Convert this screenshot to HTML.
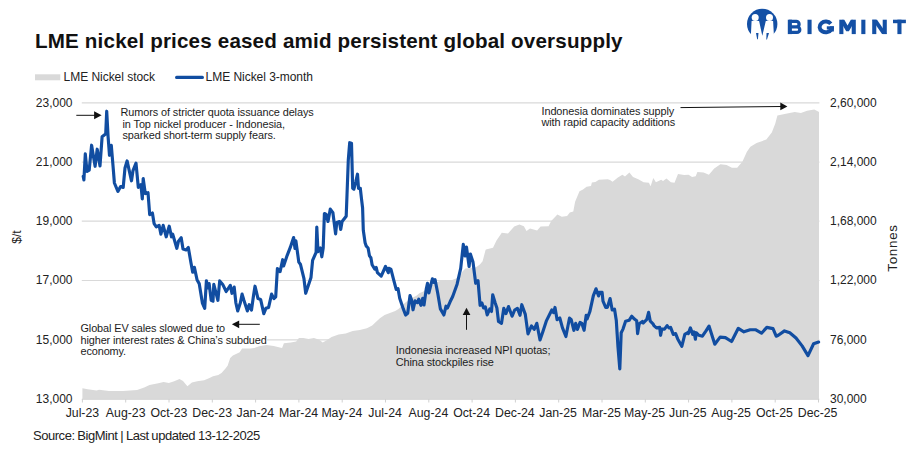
<!DOCTYPE html>
<html><head><meta charset="utf-8"><title>LME nickel</title>
<style>
html,body{margin:0;padding:0;background:#fff;}
body{width:913px;height:453px;position:relative;overflow:hidden;font-family:"Liberation Sans",sans-serif;color:#222;}
.abs{position:absolute;white-space:nowrap;}
#title{left:35px;top:29.0px;font-size:20.6px;font-weight:bold;color:#111;line-height:24px;letter-spacing:0.17px;}
.leg{font-size:12px;line-height:14px;top:70.3px;color:#222;}
.yl{position:absolute;right:840.5px;width:60px;text-align:right;font-size:12px;line-height:14px;color:#222;}
.yr{position:absolute;left:830px;font-size:12px;line-height:14px;color:#222;}
.xl{position:absolute;top:405.7px;width:60px;text-align:center;font-size:12.3px;line-height:14px;color:#222;}
.ann1{color:#1c1c1c;letter-spacing:-0.09px;}
#src{left:33px;top:428.1px;font-size:13px;line-height:15px;color:#222;letter-spacing:-0.46px;word-spacing:-0.4px;}
svg{position:absolute;left:0;top:0;}
</style></head><body>
<svg width="913" height="453" viewBox="0 0 913 453">
<rect x="80" y="322" width="188" height="38" fill="#fff"/>
<line x1="81.8" y1="102.8" x2="819.4" y2="102.8" stroke="#d9d9d9" stroke-width="1.2"/><line x1="81.8" y1="162.05" x2="819.4" y2="162.05" stroke="#d9d9d9" stroke-width="1.2"/><line x1="81.8" y1="221.2" x2="819.4" y2="221.2" stroke="#d9d9d9" stroke-width="1.2"/><line x1="81.8" y1="280.5" x2="819.4" y2="280.5" stroke="#d9d9d9" stroke-width="1.2"/><line x1="81.8" y1="339.8" x2="819.4" y2="339.8" stroke="#d9d9d9" stroke-width="1.2"/>
<rect x="80" y="326" width="187" height="33" fill="#fff"/>
<path d="M82.4,388.3 L87.7,389.2 L96.5,390.4 L99.1,389.7 L108.9,390.9 L123.0,390.9 L137.1,390.0 L144.2,387.4 L149.5,385.1 L158.3,383.3 L163.6,382.1 L168.9,383.0 L174.2,381.2 L179.5,379.1 L183.0,380.9 L187.4,386.2 L191.9,382.6 L197.2,381.2 L204.2,380.3 L209.5,378.0 L213.0,376.3 L218.3,375.0 L221.5,373.0 L225.5,368.5 L227.6,365.8 L229.2,361.0 L230.2,358.0 L232.9,355.4 L239.7,352.2 L242.1,348.6 L250.3,348.4 L254.3,348.1 L259.1,346.3 L266.4,345.0 L273.7,346.1 L279.8,347.4 L282.1,348.0 L283.9,343.3 L290.9,342.4 L296.2,341.5 L298.9,338.0 L303.3,338.0 L308.6,338.9 L313.9,338.0 L319.2,339.7 L322.7,342.4 L326.3,340.6 L331.6,337.1 L338.6,334.4 L345.7,333.6 L352.7,330.9 L359.8,330.0 L366.9,328.3 L372.2,325.6 L374.8,323.0 L379.9,318.3 L384.6,315.0 L389.9,313.0 L395.2,311.0 L398.5,309.0 L401.8,305.7 L406.0,302.0 L412.4,297.7 L416.4,295.8 L419.7,293.1 L423.0,291.8 L425.6,289.8 L432.0,285.0 L438.9,281.2 L444.2,280.5 L452.1,279.9 L456.1,278.5 L460.1,275.9 L462.7,271.3 L465.4,268.6 L470.7,267.9 L476.0,267.3 L479.9,264.6 L482.6,261.3 L485.4,250.6 L485.9,249.5 L493.0,247.7 L496.5,240.6 L501.8,232.7 L508.0,233.6 L514.2,226.5 L519.4,224.4 L523.9,226.2 L526.5,230.9 L530.0,228.6 L537.1,230.4 L540.6,226.5 L548.6,226.2 L551.2,220.9 L557.4,214.5 L561.8,216.8 L567.1,215.9 L569.8,212.4 L573.3,211.5 L575.1,201.8 L579.5,191.2 L583.0,189.4 L586.6,186.8 L591.0,185.9 L591.9,182.4 L595.4,182.0 L598.9,179.7 L607.7,179.2 L610.0,180.0 L612.6,181.8 L617.9,177.4 L622.4,174.7 L625.0,176.5 L629.4,172.6 L633.0,176.9 L638.3,179.2 L643.6,182.2 L648.9,182.7 L650.6,186.2 L653.3,177.9 L655.9,182.2 L661.2,179.7 L663.0,180.9 L666.5,178.6 L670.9,182.2 L674.5,182.7 L678.0,173.9 L684.2,175.1 L688.6,174.7 L692.1,176.9 L695.7,176.2 L697.4,172.1 L703.6,172.6 L708.9,174.7 L714.2,168.6 L720.4,164.2 L726.6,165.0 L731.9,167.7 L737.2,167.7 L742.5,161.5 L746.9,151.8 L750.4,146.8 L756.6,143.0 L766.3,139.6 L771.8,132.4 L775.3,123.6 L777.4,115.6 L785.9,113.8 L794.7,112.1 L800.9,113.0 L807.1,110.8 L814.2,109.4 L817.7,111.2 L819.0,112.1 L819,399.4 L82.4,399.4 Z" fill="#d9d9d9"/>
<line x1="81.8" y1="399.2" x2="819.4" y2="399.2" stroke="#d4d4d4" stroke-width="1"/>
<line x1="82.4" y1="399" x2="82.4" y2="402.5" stroke="#d0d0d0" stroke-width="1"/><line x1="125.7" y1="399" x2="125.7" y2="402.5" stroke="#d0d0d0" stroke-width="1"/><line x1="169.0" y1="399" x2="169.0" y2="402.5" stroke="#d0d0d0" stroke-width="1"/><line x1="212.3" y1="399" x2="212.3" y2="402.5" stroke="#d0d0d0" stroke-width="1"/><line x1="255.6" y1="399" x2="255.6" y2="402.5" stroke="#d0d0d0" stroke-width="1"/><line x1="298.9" y1="399" x2="298.9" y2="402.5" stroke="#d0d0d0" stroke-width="1"/><line x1="342.2" y1="399" x2="342.2" y2="402.5" stroke="#d0d0d0" stroke-width="1"/><line x1="385.5" y1="399" x2="385.5" y2="402.5" stroke="#d0d0d0" stroke-width="1"/><line x1="428.8" y1="399" x2="428.8" y2="402.5" stroke="#d0d0d0" stroke-width="1"/><line x1="472.1" y1="399" x2="472.1" y2="402.5" stroke="#d0d0d0" stroke-width="1"/><line x1="515.4" y1="399" x2="515.4" y2="402.5" stroke="#d0d0d0" stroke-width="1"/><line x1="558.7" y1="399" x2="558.7" y2="402.5" stroke="#d0d0d0" stroke-width="1"/><line x1="602.0" y1="399" x2="602.0" y2="402.5" stroke="#d0d0d0" stroke-width="1"/><line x1="645.3" y1="399" x2="645.3" y2="402.5" stroke="#d0d0d0" stroke-width="1"/><line x1="688.6" y1="399" x2="688.6" y2="402.5" stroke="#d0d0d0" stroke-width="1"/><line x1="731.9" y1="399" x2="731.9" y2="402.5" stroke="#d0d0d0" stroke-width="1"/><line x1="775.2" y1="399" x2="775.2" y2="402.5" stroke="#d0d0d0" stroke-width="1"/><line x1="818.5" y1="399" x2="818.5" y2="402.5" stroke="#d0d0d0" stroke-width="1"/>
<path d="M83.2,176.3 L83.9,180.0 L85.3,153.8 L87.0,171.4 L89.2,170.1 L91.6,145.2 L95.1,166.3 L97.2,149.2 L100.0,166.0 L102.1,136.8 L104.3,135.0 L105.7,134.0 L106.7,111.2 L108.1,136.8 L109.5,155.3 L111.3,145.3 L113.1,166.8 L114.4,183.0 L117.9,191.4 L120.6,186.5 L123.2,187.4 L125.0,168.0 L127.1,160.9 L131.5,180.8 L133.0,170.6 L136.0,163.2 L138.3,187.4 L140.9,184.7 L142.3,198.9 L143.2,178.5 L145.3,193.6 L148.0,192.7 L149.7,214.7 L152.4,213.0 L154.1,223.6 L156.3,226.8 L159.1,225.3 L160.9,234.1 L163.2,225.3 L166.2,236.8 L169.2,226.2 L171.5,236.8 L172.7,234.1 L176.8,248.3 L178.5,241.2 L181.2,237.7 L183.0,249.1 L186.1,250.0 L188.3,247.4 L190.9,262.4 L192.7,272.1 L194.4,267.3 L197.1,280.0 L199.2,283.6 L202.4,303.0 L204.7,308.3 L206.4,280.9 L207.7,288.0 L209.1,283.5 L211.2,300.3 L213.0,301.2 L213.8,284.4 L217.9,300.3 L219.7,280.9 L222.7,284.4 L226.2,291.5 L230.3,285.3 L232.0,293.3 L234.2,287.1 L235.9,303.0 L237.7,310.9 L240.3,303.0 L242.1,294.1 L243.9,300.3 L247.4,310.9 L249.2,304.7 L251.5,310.0 L253.6,295.0 L255.0,286.2 L258.0,298.6 L260.6,299.4 L263.8,313.6 L265.9,308.3 L268.6,307.4 L271.6,294.1 L273.9,298.6 L275.7,296.8 L277.4,268.5 L280.1,271.6 L282.7,259.7 L283.6,265.9 L287.2,255.3 L290.3,247.4 L293.6,237.5 L295.0,248.5 L295.9,240.9 L298.8,262.1 L300.4,264.2 L303.9,278.3 L305.7,293.3 L311.0,277.4 L312.6,260.3 L316.1,252.4 L316.8,227.0 L318.0,251.6 L320.4,248.0 L321.8,256.8 L323.2,248.0 L324.4,213.5 L326.2,214.4 L328.0,221.5 L330.3,209.1 L332.9,212.7 L335.6,233.9 L336.8,222.4 L339.4,221.5 L340.7,229.4 L342.1,221.5 L346.2,216.2 L347.0,195.0 L348.3,160.0 L349.7,142.7 L351.5,143.2 L352.7,188.3 L353.9,189.2 L355.7,182.1 L357.5,174.2 L358.5,188.3 L360.3,188.3 L361.5,198.9 L362.6,208.0 L363.3,230.3 L365.1,242.7 L366.3,246.2 L368.1,248.0 L369.5,255.9 L370.9,257.7 L372.1,264.8 L374.8,269.2 L376.2,267.4 L377.4,272.7 L381.2,276.2 L385.5,266.5 L388.3,272.7 L388.8,268.3 L390.9,269.1 L393.6,279.7 L396.2,289.4 L398.0,288.6 L399.7,298.3 L403.3,308.9 L405.6,315.0 L407.7,313.3 L410.0,295.6 L411.6,300.0 L413.0,309.8 L415.1,300.9 L417.4,302.7 L418.8,299.2 L420.9,305.3 L422.7,298.3 L424.0,305.0 L426.2,289.4 L427.5,283.3 L428.9,293.0 L430.6,285.9 L432.4,278.9 L433.8,282.4 L435.1,279.7 L437.7,293.0 L440.4,308.9 L443.9,315.0 L446.0,306.2 L447.4,308.0 L450.1,301.8 L452.7,296.5 L457.1,284.2 L460.7,268.3 L463.3,244.4 L465.1,255.9 L466.5,247.1 L469.1,266.5 L470.4,254.1 L473.0,262.1 L475.7,283.3 L478.0,280.6 L480.1,305.3 L481.9,303.0 L483.6,308.0 L485.4,307.0 L487.2,315.0 L489.8,308.9 L491.5,311.5 L492.7,294.8 L495.2,303.0 L496.9,308.0 L498.5,321.5 L501.5,323.3 L503.8,308.3 L505.9,313.6 L508.5,306.5 L512.1,316.2 L514.7,310.0 L517.4,308.3 L520.0,315.3 L521.8,304.7 L525.3,314.4 L528.0,333.9 L531.5,325.9 L534.2,329.4 L536.8,323.3 L540.0,340.0 L543.0,331.2 L546.5,320.6 L551.8,310.0 L553.6,312.7 L555.0,307.4 L557.1,319.7 L559.8,318.0 L562.4,327.7 L565.9,336.5 L569.5,318.0 L571.2,319.7 L573.9,330.3 L575.7,323.3 L577.4,329.4 L580.1,322.4 L581.8,323.3 L584.1,330.3 L586.2,315.3 L587.1,318.9 L589.8,311.8 L593.3,295.9 L596.0,288.8 L598.6,295.9 L599.5,292.4 L602.1,292.4 L603.0,301.2 L605.7,307.4 L607.4,307.4 L610.1,298.5 L612.2,310.0 L614.5,309.1 L616.3,320.6 L618.0,347.1 L619.8,368.9 L621.2,332.7 L623.0,329.1 L625.6,321.2 L629.1,320.3 L631.8,316.2 L634.4,319.1 L636.7,320.8 L637.6,333.6 L639.2,323.8 L642.4,321.5 L643.3,323.0 L646.8,319.4 L648.6,312.4 L650.3,321.2 L653.0,323.8 L653.9,325.6 L656.5,327.9 L659.7,327.4 L660.6,335.3 L661.8,329.1 L664.5,329.1 L667.1,325.6 L668.9,327.9 L670.6,327.4 L673.3,334.4 L675.6,333.6 L677.7,338.9 L681.8,346.3 L684.8,334.4 L687.4,332.7 L688.3,333.6 L690.4,327.9 L692.7,334.4 L694.0,331.8 L695.4,339.2 L696.2,332.7 L698.9,335.3 L702.4,336.2 L706.0,330.9 L709.0,326.1 L714.8,344.2 L720.1,337.1 L725.4,337.6 L731.6,341.5 L738.3,328.3 L743.9,331.8 L750.1,329.7 L755.4,329.7 L761.5,333.2 L766.8,327.4 L773.0,328.6 L776.2,336.2 L778.3,335.3 L784.5,330.9 L789.8,332.7 L796.0,338.0 L802.1,345.9 L808.0,355.6 L813.6,343.8 L818.6,342.0" fill="none" stroke="#114da1" stroke-width="3.15" stroke-linejoin="round" stroke-linecap="round"/>
<!-- arrows -->
<g stroke="#111" stroke-width="1" fill="#111">
<line x1="76.3" y1="115.3" x2="95" y2="115.3"/><polygon points="94.1,111.3 101.6,115.3 94.1,119.3" stroke="none"/>
<line x1="680.5" y1="107.6" x2="781" y2="106.5"/><polygon points="780.3,102.6 787.4,106.4 780.3,110.3" stroke="none"/>
<line x1="259.8" y1="324.3" x2="239" y2="324.3"/><polygon points="239.2,320.4 231.9,324.3 239.2,328.2" stroke="none"/>
<line x1="466.5" y1="329.8" x2="466.5" y2="314.5"/><polygon points="462.7,315 466.5,307.7 470.4,315" stroke="none"/>
</g>
<!-- legend -->
<rect x="35" y="74.3" width="25.3" height="6" fill="#d9d9d9"/>
<line x1="176.6" y1="77.4" x2="202.4" y2="77.4" stroke="#114da1" stroke-width="3.1" stroke-linecap="round"/>
<!-- logo -->
<g fill="#1450a5" id="logoletters">
<rect x="787.8" y="19.7" width="4.1" height="14.4"/>
<path d="M789,21.35 H796.3 A2.775,2.775 0 0 1 796.3,26.9 H789 M789,26.9 H797 A2.775,2.775 0 0 1 797,32.45 H789" fill="none" stroke="#1450a5" stroke-width="3.3"/>
<rect x="807.5" y="19.7" width="4.1" height="14.4"/>
<path d="M830.8,23.8 A6.2,5.35 0 1 0 831.3,29.4" fill="none" stroke="#1450a5" stroke-width="4"/>
<rect x="829.9" y="26.3" width="4" height="5.2"/>
<rect x="826.8" y="26.3" width="7.1" height="3.2"/>
<rect x="839.3" y="19.7" width="4.1" height="14.4"/>
<rect x="851.7" y="19.7" width="4.1" height="14.4"/>
<polygon points="842.5,19.7 844.3,19.7 847.55,25.6 850.8,19.7 852.6,19.7 852.6,24.9 848.9,31.3 846.2,31.3 842.5,24.9"/>
<rect x="861.3" y="19.7" width="4.1" height="14.4"/>
<rect x="872.2" y="19.7" width="4.1" height="14.4"/>
<rect x="882.7" y="19.7" width="4.1" height="14.4"/>
<polygon points="872.2,19.7 877,19.7 886.8,34.1 882,34.1"/>
<rect x="893" y="19.7" width="12.9" height="3.5"/>
<rect x="897.4" y="19.7" width="4.1" height="14.4"/>
</g>
<g>
<circle cx="762.2" cy="24" r="15.2" fill="#1450a5"/>
<circle cx="755.2" cy="17.6" r="3.5" fill="#fff"/>
<circle cx="769.5" cy="17.6" r="3.5" fill="#fff"/>
<polygon points="751.6,21.1 759.1,21.1 762.3,35.8 765.8,21.1 773.1,21.1 774.2,40.5 750.6,40.5" fill="#fff"/>
<polygon points="756.0,33 758.5,33 757.9,39.2 757.2,39.2" fill="#1450a5"/>
<polygon points="766.5,33 769,33 767.0,39.4 766.3,39.4" fill="#1450a5"/>
</g>
</svg>
<div class="abs" id="title">LME nickel prices eased amid persistent global oversupply</div>
<div class="abs leg" id="leg1" style="left:63.6px;letter-spacing:-0.04px;">LME Nickel stock</div>
<div class="abs leg" id="leg2" style="left:205.6px;letter-spacing:-0.04px;">LME Nickel 3-month</div>
<div class="yl" style="top:95.5px">23,000</div><div class="yl" style="top:154.8px">21,000</div><div class="yl" style="top:213.9px">19,000</div><div class="yl" style="top:273.2px">17,000</div><div class="yl" style="top:332.5px">15,000</div><div class="yl" style="top:391.7px">13,000</div><div class="yr" style="top:95.5px">2,60,000</div><div class="yr" style="top:154.8px">2,14,000</div><div class="yr" style="top:213.9px">1,68,000</div><div class="yr" style="top:273.2px">1,22,000</div><div class="yr" style="top:332.5px">76,000</div><div class="yr" style="top:391.7px">30,000</div><div class="xl" style="left:52.4px">Jul-23</div><div class="xl" style="left:95.7px">Aug-23</div><div class="xl" style="left:138.9px">Oct-23</div><div class="xl" style="left:182.2px">Dec-23</div><div class="xl" style="left:225.4px">Jan-24</div><div class="xl" style="left:268.6px">Mar-24</div><div class="xl" style="left:311.9px">May-24</div><div class="xl" style="left:355.1px">Jul-24</div><div class="xl" style="left:398.4px">Aug-24</div><div class="xl" style="left:441.6px">Oct-24</div><div class="xl" style="left:484.9px">Dec-24</div><div class="xl" style="left:528.1px">Jan-25</div><div class="xl" style="left:571.4px">Mar-25</div><div class="xl" style="left:614.6px">May-25</div><div class="xl" style="left:657.9px">Jun-25</div><div class="xl" style="left:701.1px">Aug-25</div><div class="xl" style="left:744.4px">Oct-25</div><div class="xl" style="left:787.6px">Dec-25</div>
<div class="abs" id="ylab" style="left:17px;top:236.5px;font-size:12px;line-height:14px;transform:translate(-50%,-50%) rotate(-90deg);">$/t</div>
<div class="abs" id="yrlab" style="left:892.2px;top:247.6px;font-size:13.4px;line-height:15px;letter-spacing:0.72px;transform:translate(-50%,-50%) rotate(-90deg);">Tonnes</div>
<div class="abs ann1" id="a1" style="left:120.5px;top:105.22px;font-size:10.9px;line-height:14px;">Rumors of stricter quota issuance delays</div><div class="abs ann1" style="left:122.5px;top:116.72px;font-size:10.9px;line-height:14px;">in Top nickel producer - Indonesia,</div><div class="abs ann1" style="left:122.5px;top:127.82px;font-size:10.9px;line-height:14px;">sparked short-term supply fears.</div><div class="abs ann1" id="a2" style="left:541.5px;top:104.42px;font-size:10.9px;line-height:14px;">Indonesia dominates supply</div><div class="abs ann1" style="left:541.5px;top:115.42px;font-size:10.9px;line-height:14px;">with rapid capacity additions</div><div class="abs ann1" style="left:80.5px;top:321.42px;font-size:10.9px;line-height:14px;letter-spacing:-0.11px;">Global EV sales slowed due to</div><div class="abs ann1" id="a3" style="left:80.5px;top:332.72px;font-size:10.9px;line-height:14px;letter-spacing:-0.11px;">higher interest rates &amp; China’s subdued</div><div class="abs ann1" style="left:80.5px;top:344.02px;font-size:10.9px;line-height:14px;letter-spacing:-0.11px;">economy.</div><div class="abs ann1" id="a4" style="left:395.8px;top:343.32px;font-size:10.9px;line-height:14px;">Indonesia increased NPI quotas;</div><div class="abs ann1" style="left:395.8px;top:354.92px;font-size:10.9px;line-height:14px;">China stockpiles rise</div>
<div class="abs" id="src">Source: BigMint | Last updated 13-12-2025</div>
</body></html>
